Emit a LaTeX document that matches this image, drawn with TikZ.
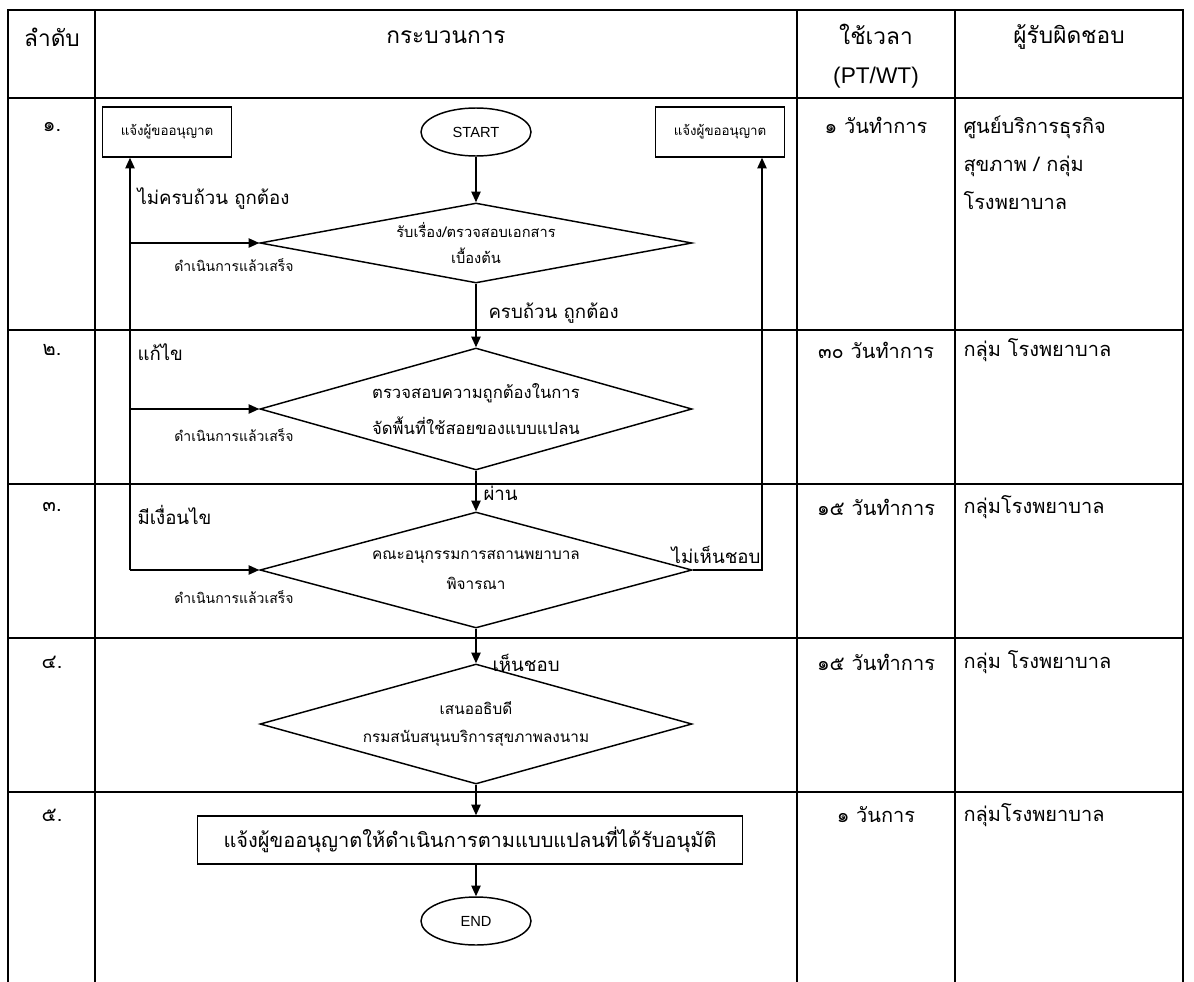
\documentclass[tikz,border=0pt]{standalone}
\usepackage{fontspec}
\setmainfont{Loma}[Script=Thai]
\newfontfamily\latinfont{Liberation Sans}
\usetikzlibrary{shapes.geometric,arrows.meta}

\tikzset{every picture/.style={line width=0.75pt}}
\tikzset{
	gridline/.style={line width=0.9pt},
	flowline/.style={line width=1.1pt,-{Triangle[length=8pt,width=7pt]}},
	decision/.style={draw,diamond,line width=1.1pt,inner sep=0pt,align=center,minimum width=324pt},
	terminal/.style={draw,ellipse,line width=1.1pt,inner sep=0pt,minimum width=82.5pt,minimum height=36pt,font=\latinfont\fontsize{11}{13}\selectfont},
	notebox/.style={draw,rectangle,line width=1.1pt,inner sep=0pt,minimum width=97pt,minimum height=37.5pt,font=\fontsize{10}{12}\selectfont},
	headtext/.style={font=\fontsize{17}{29}\selectfont,align=center},
	rowtext/.style={font=\fontsize{15}{28.5}\selectfont},
	looptext/.style={font=\fontsize{14}{16}\selectfont,anchor=west,inner sep=0pt},
	donetext/.style={font=\fontsize{10.5}{12}\selectfont,inner sep=0pt}
}

\begin{document}
\begin{tikzpicture}[x=0.75pt,y=0.75pt,yscale=-1,xscale=1]
	\useasboundingbox (0,0) rectangle (1194,981);

	%Table frame
	\draw [gridline] (8,995) -- (8,10) -- (1183,10) -- (1183,995) ;
	\foreach \x in {95,797,955} \draw [gridline] (\x,10) -- (\x,995) ;
	\foreach \y in {98,330,484,638,792} \draw [gridline] (8,\y) -- (1183,\y) ;

	% Header
	\node [headtext] (hOrder) at (52,37) {ลำดับ};
	\node [headtext] (hProc) at (446,37) {กระบวนการ};
	\node [headtext] (hTime) at (876,56) {ใช้เวลา\\{\latinfont (PT/WT)}};
	\node [headtext] (hResp) at (1069,37) {ผู้รับผิดชอบ};

	% Row numbers and times
	\foreach \n/\y [count=\i] in {๑/127,๒/350,๓/507,๔/662,๕/815}
		\node [rowtext] (num\i) at (52,\y) {\n.};
	\foreach \t/\y [count=\i] in {๑ วันทำการ/125,๓๐ วันทำการ/350,๑๕ วันทำการ/507,๑๕ วันทำการ/662,๑ วันการ/815}
		\node [rowtext] (time\i) at (876,\y) {\t};

	% Responsible
	\node [rowtext,anchor=west,align=left,inner sep=0pt] (resp1) at (963,163) {ศูนย์บริการธุรกิจ\\สุขภาพ / กลุ่ม\\โรงพยาบาล};
	\node [rowtext,anchor=west,inner sep=0pt] (resp2) at (963,350) {กลุ่ม โรงพยาบาล};
	\node [rowtext,anchor=west,inner sep=0pt] (resp3) at (963,507) {กลุ่มโรงพยาบาล};
	\node [rowtext,anchor=west,inner sep=0pt] (resp4) at (963,662) {กลุ่ม โรงพยาบาล};
	\node [rowtext,anchor=west,inner sep=0pt] (resp5) at (963,815) {กลุ่มโรงพยาบาล};

	%Flowchart shapes
	\node [terminal] (start) at (476,132) {START};
	\node [notebox] (noteL) at (167,132) {แจ้งผู้ขออนุญาต};
	\node [notebox] (noteR) at (720,132) {แจ้งผู้ขออนุญาต};
	\node [decision,aspect=5.5,minimum height=60pt,font=\fontsize{11}{20}\selectfont] (chk1) at (476,243) {รับเรื่อง/ตรวจสอบเอกสาร\\เบื้องต้น};
	\node [decision,aspect=3.6,minimum height=91.5pt,font=\fontsize{12.5}{27}\selectfont] (chk2) at (476,409) {ตรวจสอบความถูกต้องในการ\\จัดพื้นที่ใช้สอยของแบบแปลน};
	\node [decision,aspect=4,minimum height=87pt,font=\fontsize{11.5}{23}\selectfont] (chk3) at (476,570) {คณะอนุกรรมการสถานพยาบาล\\พิจารณา};
	\node [decision,aspect=4,minimum height=90pt,font=\fontsize{11.5}{21}\selectfont] (chk4) at (476,724) {เสนออธิบดี\\กรมสนับสนุนบริการสุขภาพลงนาม};
	\node [draw,rectangle,line width=1.1pt,minimum width=409pt,minimum height=36pt,font=\fontsize{15}{18}\selectfont] (notify) at (470,840) {แจ้งผู้ขออนุญาตให้ดำเนินการตามแบบแปลนที่ได้รับอนุมัติ};
	\node [terminal] (end) at (476,921) {END};

	%Return lines
	\coordinate (loopL) at (130,570);
	\coordinate (loopR) at (762,570);

	%Straight Lines
	\draw [flowline] (start) -- (chk1) ;
	\draw [flowline] (chk1) -- (chk2) ;
	\draw [flowline] (chk2) -- (chk3) ;
	\draw [flowline] (chk3) -- (chk4) ;
	\draw [flowline] (chk4.south) -- (chk4.south |- notify.north) ;
	\draw [flowline] (end.north |- notify.south) -- (end) ;
	\draw [flowline] (loopL |- chk3.west) -- (loopL |- noteL.south) ;
	\draw [flowline] (loopL |- chk1.west) -- (chk1.west) ;
	\draw [flowline] (loopL |- chk2.west) -- (chk2.west) ;
	\draw [flowline] (loopL |- chk3.west) -- (chk3.west) ;
	\draw [flowline] (chk3.east) -- (loopR |- chk3.east) -- (loopR |- noteR.south) ;

	% Text Node
	\node [looptext] (lblNotOk) at (137,199) {ไม่ครบถ้วน ถูกต้อง};
	\node [looptext] (lblFix) at (137,352) {แก้ไข};
	\node [looptext] (lblCond) at (137,515) {มีเงื่อนไข};
	\node [looptext] (lblOk) at (488,313) {ครบถ้วน ถูกต้อง};
	\node [looptext] (lblPass) at (483,493) {ผ่าน};
	\node [looptext] (lblAgree) at (492,663) {เห็นชอบ};
	\node [looptext,anchor=east] (lblDisagree) at (761,555) {ไม่เห็นชอบ};
	% Text Node
	\node [donetext] (done1) at (234,265) {ดำเนินการแล้วเสร็จ};
	\node [donetext] (done2) at (234,435) {ดำเนินการแล้วเสร็จ};
	\node [donetext] (done3) at (234,597) {ดำเนินการแล้วเสร็จ};
\end{tikzpicture}
\end{document}
